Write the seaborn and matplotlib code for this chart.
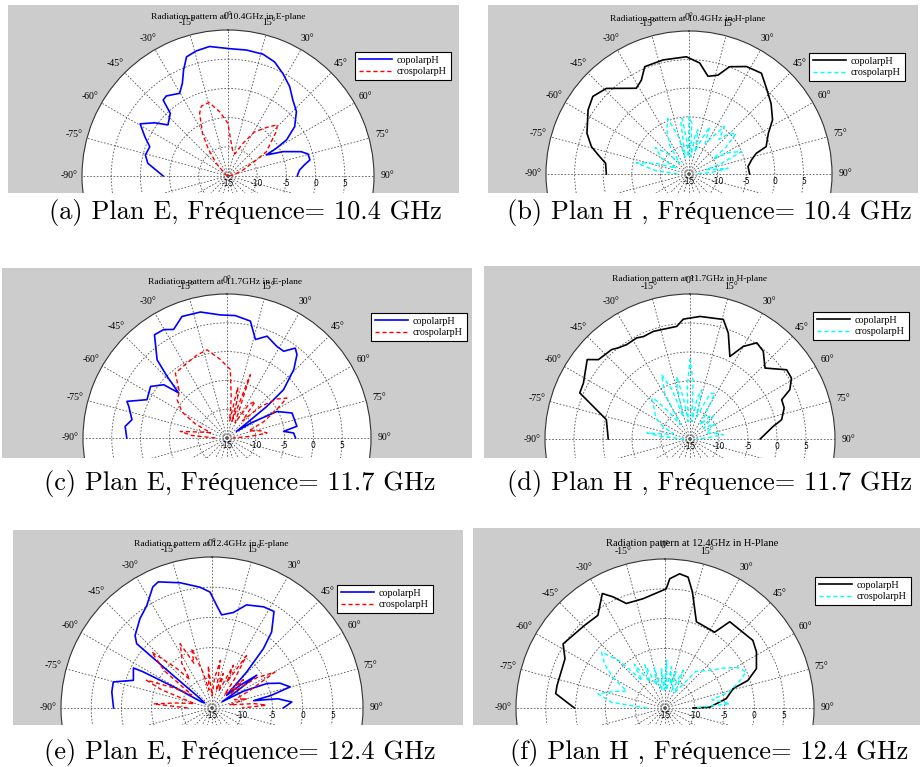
import numpy as np
import matplotlib
matplotlib.use("Agg")
import matplotlib.pyplot as plt
import matplotlib.transforms as mtransforms
from matplotlib.patches import Rectangle
import seaborn as sns

# ---- data (angle in deg, level in dB) ----
a_co_deg = [-90, -81, -75.7, -69.5, -64.7, -59.3, -54, -49.6, -42.6, -40.5, -37.6, -30.3, -26.2, -22.7,
            -19.2, -14.2, -8.1, 0.8, 8.3, 16, 22.2, 28.2, 34.6, 40.5, 46.7, 53.5, 58.3, 60.2, 61.3,
            66.1, 71.6, 74.6, 78.9, 81.8, 85.2, 89.2, 90]
a_co_val = [-3.9, -1.1, -0.4, -0.7, 0.75, 2.5, 0.5, -1.5, -0.4, 2.1, 2.3, 1.4, 2.7, 4.7,
            6.6, 7.1, 7.4, 6.8, 6.8, 6.7, 6.1, 4.9, 3.6, 2.1, 1.1, -0.8, -3.2, -5.5, -7.5,
            -4.7, -1.8, -0.8, -0.7, -1.8, -2.7, -3.1, -3.1]
a_cx_deg = [-90, -60, -42.6, -35.9, -31, -24.3, -20.9, -14.5, -7.4, 0, 4.2, 10, 16.9, 24.7, 31,
            38.4, 44, 47.5, 50.1, 57.6, 60.5, 68.2, 80, 90]
a_cx_val = [-15, -14.5, -12.0, -9.2, -6.5, -3.2, -2.2, -2.0, -3.9, -6.0, -8.8, -10.5, -11.1, -8.8, -6.2,
            -4.4, -2.8, -3.8, -5.0, -7.2, -9.4, -12.2, -14, -15]

b_co_deg = [-90, -82.7, -79, -74.4, -68.3, -57.6, -51.1, -44, -37.6, -31.6, -26.9, -22.4, -12.8, -1.3,
            5.5, 11, 16.3, 20.7, 28.1, 35.7, 42.1, 49.4, 57.1, 62.8, 70.5, 72.9, 77.3, 82.9, 90]
b_co_val = [-0.55, -0.3, 0.9, 2.7, 4.2, 5.9, 6.6, 5.8, 3.9, 2.6, 3.4, 5.3, 5.45, 5.5,
            4.5, 2.4, 3.0, 5.05, 6.3, 6.7, 5.2, 3.9, 2.4, 0.6, -0.7, -2.7, -3.8, -4.6, -4.4]
b_cx_deg = [-90, -84, -78, -72, -66, -60, -52, -46, -40, -34, -27, -21, -16, -13, -9, -7, -4, -2, 0,
            3, 6, 9, 11.6, 15, 19, 23.6, 28, 32, 36.6, 41, 44, 49.3, 54, 58, 62, 66.9, 72, 76,
            81.7, 86, 90]
b_cx_val = [-13, -9, -5.6, -9, -12.5, -9.5, -7.5, -10, -12.5, -9, -6.5, -4.6, -8, -12, -6, -5.2, -9, -12, -5.0,
            -6, -12, -8, -7.1, -11, -9, -6.0, -9, -7.5, -4.6, -7, -5.5, -4.1, -7, -10, -7, -5.0, -9, -12,
            -8.1, -11, -14]

c_co_deg = [-90, -83.5, -79.1, -72.2, -69.9, -64.4, -56, -49.9, -47, -44.2, -41.8, -35.1, -30.3, -26.2,
            -20.3, -11.9, -3.1, 3.9, 11.3, 16.1, 21.5, 28.6, 33.2, 37.2, 40, 44.3, 49.5, 51.6, 53,
            55, 58, 62, 69, 80.5, 83.3, 85.7, 90]
c_co_val = [2.4, 2.8, 1.8, 2.9, 3.5, 0.4, 1.0, -0.65, -3.5, -0.1, 3.2, 6.9, 6.8, 6.0,
            7.5, 7.35, 6.4, 6.3, 5.7, 2.8, 4.0, 3.1, 3.0, 4.6, 3.9, 1.6, -2.1, -6.2, -10.7,
            -13, -10, -5.2, -2.9, -2.7, -5.1, -3.4, -3.1]
c_cx_deg = [-90, -86, -82, -78, -72, -66, -60, -52.5, -46, -38.5, -28, -20, -12.8, -4.9, 2.8, 6, 9, 12,
            15, 17, 20.2, 24, 28, 33, 37.7, 42, 47, 52, 56.3, 60, 66, 72, 78, 82.9, 86, 90]
c_cx_val = [-13, -9, -6.8, -10, -12, -9, -6, -4.1, -3.5, -0.6, -0.25, 0.3, 0.7, -1.3, -3.1, -8, -12, -6,
            -8, -12, -3.3, -10, -12, -8, -7.0, -11, -7, -4, -2.5, -5, -8, -11, -9, -8.0, -11, -14]

d_co_deg = [-90, -77, -73.9, -67.3, -62.3, -52.3, -49.1, -41.2, -38.2, -33.9, -27.8, -24.4, -18.8, -6.7,
            -3.2, 4.7, 15.6, 19.9, 25.8, 29.9, 34.8, 39.9, 46.6, 54.4, 59, 63.7, 66.8, 71.7, 78.1,
            81.4, 90]
d_co_val = [-0.9, -0.2, 1.2, 5.6, 5.75, 7.4, 5.9, 5.5, 5.0, 4.6, 4.7, 4.4, 4.6, 4.55,
            5.7, 6.2, 6.4, 4.4, 0.8, 3.4, 5.2, 4.7, 2.8, 5.5, 5.4, 4.2, 2.2, 2.1, 1.15,
            -0.5, -2.9]
d_cx_deg = [-90, -85, -82, -78, -72, -66, -58, -50, -44, -41.8, -38, -34, -29, -23.8, -20, -17, -14, -12,
            -9, -6, -3, 0, 3, 6, 10, 13.3, 17, 21, 24, 28.5, 32, 36, 41, 45.8, 52, 58, 63, 70, 77,
            82.6, 86, 90]
d_cx_val = [-14, -10, -7.5, -11, -12, -10, -8, -7, -5.5, -5.5, -9, -12, -6, -2.9, -6, -11, -6, -4.0,
            -8, -12, -6, -1.3, -5, -12, -8, -6.3, -11, -9, -6.5, -6.0, -10, -12, -9.5, -9.4, -12, -10, -11, -12, -10.5,
            -9.2, -12, -14]

e_co_deg = [-90, -80.9, -75.2, -70.6, -63, -62.3, -61, -60, -55, -51, -50, -49.5, -46.7, -38.9, -32.5,
            -26.1, -23.1, -14.3, -5.7, -1, 2.6, 5.9, 12.6, 18.5, 27, 32.7, 38.1, 40.9, 43.9, 49, 51,
            53.8, 56, 58, 62, 66, 70, 74.9, 78, 80, 82, 85.7, 90]
e_co_val = [1.3, 1.8, 1.9, -1.2, -0.4, -2.1, -8, -13, -13.5, -12, -6.6, 1.4, 2.5, 4.0, 5.1,
            7.3, 7.7, 6.4, 5.1, 4.2, 2.0, 0.5, 1.2, 3.0, 3.8, 4.0, 1.0, -2.0, -6.7, -11.8, -9,
            -5.8, -10, -13, -9, -5, -3, -1.6, -5, -8, -4, -1.75, -3.2]
e_cx_deg = [-90, -86, -82, -76, -70, -67, -62, -57, -52, -47.1, -42, -38, -34, -30, -26.4, -22, -18.9,
            -14, -10, -5, 0, 5, 10, 14, 18, 22, 26.6, 30, 33.4, 38, 43, 48, 52, 56, 60.3, 65, 70,
            75, 80, 84, 87, 90]
e_cx_val = [-11, -5.3, -9, -12, -6, -3.2, -8, -11, -5, -1.4, -6, -9, -6, -5, -3.1, -7, -4.6,
            -9, -12, -8, -13, -10, -7, -12, -9, -12, -7.1, -10, -4.6, -9, -12, -8, -11, -6, -3.0, -8, -11,
            -9, -12, -8, -6.0, -10]

f_co_deg = [-90, -82.5, -78.1, -63.8, -57.8, -44.2, -35.9, -28.7, -25.1, -20.3, -11.4, 0.6, 2.1, 6.2,
            10, 13.3, 20, 33.2, 36.9, 52.4, 58.5, 66.7, 71.6, 74.1, 81.3, 89, 90]
f_co_val = [0.2, 3.5, 3.5, 3.7, 5.2, 4.35, 4.2, 6.9, 5.6, 3.7, 3.7, 5.0, 6.7, 7.65,
            7.3, 5.0, 0.4, 0.2, 3.1, 3.6, 3.0, 1.7, -0.35, -3.1, -4.6, -7.5, -10.3]
f_cx_deg = [-90, -84, -78, -72, -66, -60, -54, -48.7, -44, -40, -35, -30, -25, -20, -15, -10, -5, -2,
            2, 5, 9, 13, 17, 21, 26, 32, 40, 49.9, 56, 61, 66.1, 71, 76, 80, 86.2, 90]
f_cx_val = [-12, -6, -3.5, -6, -8, -5, -2.5, -0.8, -4, -9, -6, -10, -7, -11, -8, -12, -8.4, -12,
            -7, -12, -8, -11, -8.5, -12, -8, -12, -7, -5.2, -3, -1, -0.1, -2, -4, -7, -4.1, -10]

titles = ["Radiation pattern at 10.4GHz in E-plane", "Radiation pattern at 10.4GHz in H-plane",
          "Radiation pattern at 11.7GHz in E-plane", "Radiation pattern at 11.7GHz in H-plane",
          "Radiation pattern at 12.4GHz in E-plane", "Radiation pattern at 12.4GHz in H-Plane"]
captions = ["(a) Plan E, Fréquence= 10.4 GHz", "(b) Plan H , Fréquence= 10.4 GHz",
            "(c) Plan E, Fréquence= 11.7 GHz", "(d) Plan H , Fréquence= 11.7 GHz",
            "(e) Plan E, Fréquence= 12.4 GHz", "(f) Plan H , Fréquence= 12.4 GHz"]
series = [(a_co_deg, a_co_val, a_cx_deg, a_cx_val), (b_co_deg, b_co_val, b_cx_deg, b_cx_val),
          (c_co_deg, c_co_val, c_cx_deg, c_cx_val), (d_co_deg, d_co_val, d_cx_deg, d_cx_val),
          (e_co_deg, e_co_val, e_cx_deg, e_cx_val), (f_co_deg, f_co_val, f_cx_deg, f_cx_val)]
r_ticks = [-10, -5, 0, 5]
r_labels = [-15, -10, -5, 0, 5]

# ---- layout (pixels of the 922x767 page) ----
W, H = 922, 767
gray_boxes = [(8, 5, 459, 193), (488, 5, 918, 193), (2, 268, 472, 458),
              (484, 266, 920, 458), (13, 530, 463, 725), (473, 528, 920, 725)]
centers = [(228, 176, 146), (689, 174, 143), (227, 438, 144),
           (690, 439, 145), (212, 708, 151), (665, 708, 149)]
legend_pos = [(355, 52), (809, 53), (371, 313), (813, 312), (337, 585), (815, 577)]
title_pos = [(228, 17, 6.8), (688, 19, 6.8), (225, 282, 6.8), (690, 279, 6.8), (211, 544, 6.8), (692, 544, 7.6)]
caption_pos = [(245, 212), (709, 212), (240, 483), (710, 483), (240, 752), (709, 752)]
colors = [("#0000ff", "#ff0000"), ("#000000", "#00ffff")] * 3

plt.rcParams['font.family'] = ['Liberation Serif', 'DejaVu Serif']
plt.rcParams['axes.unicode_minus'] = False

fig = plt.figure(figsize=(W / 100, H / 100), dpi=100)
fig.patch.set_facecolor('white')

ang_ticks = np.arange(0, 360, 15)
ang_labels = []
for t in ang_ticks:
    if t <= 90:
        ang_labels.append(f"{t}°")
    elif t >= 270:
        ang_labels.append(f"{t - 360}°")
    else:
        ang_labels.append("")

for i in range(6):
    row = i // 2
    zbase = 3 * row + 1
    x0, y0, x1, y1 = gray_boxes[i]
    fig.add_artist(Rectangle((x0 / W, 1 - y1 / H), (x1 - x0) / W, (y1 - y0) / H,
                             transform=fig.transFigure, facecolor='#cccccc',
                             edgecolor='none', zorder=zbase))

    cx, cy, R = centers[i]
    ax = fig.add_axes([(cx - R) / W, 1 - (cy + R) / H, 2 * R / W, 2 * R / H], projection='polar')
    ax.set_zorder(zbase + 1)
    ax.set_theta_zero_location('N')
    ax.set_theta_direction(-1)

    co_deg, co_val, cx_deg, cx_val = series[i]
    c_co, c_cx = colors[i]
    sns.lineplot(x=np.deg2rad(co_deg), y=co_val, sort=False, estimator=None, color=c_co,
                 linewidth=1.2, label='copolarpH', legend=False, ax=ax)
    sns.lineplot(x=np.deg2rad(cx_deg), y=cx_val, sort=False, estimator=None, color=c_cx,
                 linewidth=1.0, linestyle=(0, (3, 2)), label='crospolarpH', legend=False, ax=ax)

    ax.set_ylim(-15, 10)
    ax.set_xlabel('')
    ax.set_ylabel('')
    ax.set_yticks(r_ticks)
    ax.set_yticklabels([])
    ax.set_xticks(np.deg2rad(ang_ticks))
    ax.set_xticklabels(ang_labels)
    ax.tick_params(axis='x', length=0, pad=2.5, labelsize=7, colors='black')
    ax.grid(True, color='#555555', linestyle=(0, (2, 2)), linewidth=0.6)
    ax.spines['polar'].set_color('#333333')
    ax.spines['polar'].set_linewidth(0.8)
    ax.set_facecolor('white')

    off = mtransforms.offset_copy(ax.transData, fig=fig, y=-2, units='points')
    for v in r_labels:
        ax.text(np.pi / 2, v, str(v), transform=off, ha='center', va='top',
                fontsize=5.5, family='DejaVu Sans')

    lx, ly = legend_pos[i]
    leg = ax.legend(loc='upper left', bbox_to_anchor=(lx / W, 1 - ly / H),
                    bbox_transform=fig.transFigure, fancybox=False, edgecolor='black',
                    framealpha=1, fontsize=7.3, handlelength=3.3, borderaxespad=0,
                    borderpad=0.35, labelspacing=0.25, handletextpad=0.5)
    leg.get_frame().set_linewidth(0.8)

    tx, ty, ts = title_pos[i]
    fig.text(tx / W, 1 - ty / H, titles[i], ha='center', va='center', fontsize=ts,
             zorder=zbase + 1.5)

    # white page below this row hides the lower half of the circles
    fig.add_artist(Rectangle((0, 0), 1, 1 - y1 / H, transform=fig.transFigure,
                             facecolor='white', edgecolor='none', zorder=zbase + 2))

for i in range(6):
    px, py = caption_pos[i]
    fig.text(px / W, 1 - py / H, captions[i], ha='center', va='center', fontsize=19,
             family=['cmr10', 'Liberation Serif'], zorder=20)

fig.savefig('out.png', dpi=100)
